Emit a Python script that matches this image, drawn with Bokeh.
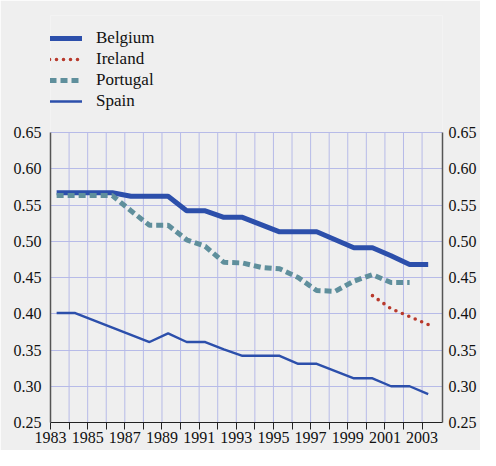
from bokeh.plotting import figure
from bokeh.models import (Range1d, LinearAxis, FixedTicker, Legend, LegendItem,
                          NumeralTickFormatter, Grid)
from bokeh.embed import file_html
from bokeh.resources import INLINE

years = list(range(1983, 2004))
belgium = [0.567, 0.567, 0.567, 0.567, 0.562, 0.562, 0.562, 0.542, 0.542, 0.533, 0.533,
           0.523, 0.513, 0.513, 0.513, 0.502, 0.491, 0.491, 0.480, 0.468, 0.468]
ireland_years = [2000, 2001, 2002, 2003]
ireland = [0.425, 0.407, 0.396, 0.385]
portugal_years = list(range(1983, 2003))
portugal = [0.563, 0.563, 0.563, 0.563, 0.542, 0.522, 0.522, 0.502, 0.493, 0.471, 0.470,
            0.464, 0.462, 0.450, 0.432, 0.431, 0.445, 0.454, 0.443, 0.443]
spain = [0.401, 0.401, 0.391, 0.381, 0.371, 0.361, 0.373, 0.361, 0.361, 0.351, 0.342,
         0.342, 0.342, 0.331, 0.331, 0.321, 0.311, 0.311, 0.300, 0.300, 0.289]
y_ticks = [0.25, 0.30, 0.35, 0.40, 0.45, 0.50, 0.55, 0.60, 0.65]
x_label_years = list(range(1983, 2004, 2))

OFFSET = 0.33  # points sit a little right of each year's tick in the original
def shift(xs):
    return [x + OFFSET for x in xs]

BG = "#efefef"
GRID = "#b7bbe8"
BLUE = "#2c4fab"
FONT = "Liberation Serif"

W, H = 480, 450
FRAME_TOP, FRAME_BOTTOM, TOP_TICK_PX = 15, 422, 132
y_lo, y_hi = y_ticks[0], y_ticks[-1]
# frame extends above the chart so the legend (inside the frame) is not clipped
y_end = y_lo + (y_hi - y_lo) * (FRAME_BOTTOM - FRAME_TOP) / (FRAME_BOTTOM - TOP_TICK_PX)

p = figure(width=W, height=H, output_backend="svg", toolbar_location=None,
           x_range=Range1d(1983, 2004.1), y_range=Range1d(y_lo, y_end),
           min_border_left=50, min_border_right=38, min_border_top=FRAME_TOP,
           min_border_bottom=H - FRAME_BOTTOM, x_axis_location=None, y_axis_location=None)
p.background_fill_color = BG
p.border_fill_color = BG
p.outline_line_color = None
for g in list(p.grid):
    g.visible = False

xt = FixedTicker(ticks=years)
yt = FixedTicker(ticks=y_ticks)

xaxis = LinearAxis(ticker=xt)
xaxis.major_label_overrides = {y: (str(y) if y in x_label_years else "") for y in years}
xaxis.major_label_text_font = FONT
xaxis.major_label_text_font_size = "16px"
xaxis.major_label_text_color = "#111111"
xaxis.major_label_standoff = 2
xaxis.major_tick_in = 0
xaxis.major_tick_out = 7
xaxis.major_tick_line_color = "#222222"
xaxis.minor_tick_line_color = None
xaxis.axis_line_color = "#222222"
p.add_layout(xaxis, "below")

for side in ("left", "right"):
    ax = LinearAxis(ticker=yt, formatter=NumeralTickFormatter(format="0.00"),
                    bounds=(y_lo, y_hi))
    ax.major_label_text_font = FONT
    ax.major_label_text_font_size = "16px"
    ax.major_label_text_color = "#111111"
    ax.major_label_standoff = 9 if side == "left" else 6
    ax.major_tick_in = 0
    ax.major_tick_out = 0
    ax.minor_tick_line_color = None
    ax.axis_line_color = "#555555"
    ax.axis_line_width = 1.5
    p.add_layout(ax, side)

# horizontal grid (includes the 0.65 top line)
p.add_layout(Grid(dimension=1, ticker=yt, grid_line_color=GRID, grid_line_width=1))
# vertical grid, limited to the chart's value range
grid_years = years[1:]
p.segment(x0=grid_years, x1=grid_years, y0=[y_lo] * len(grid_years),
          y1=[y_hi] * len(grid_years), line_color=GRID, line_width=1)

r_bel = p.line(shift(years), belgium, line_color=BLUE, line_width=5)
r_ire = p.line(shift(ireland_years), ireland, line_color="#b8392c", line_width=3.6,
               line_dash="0 7", line_cap="round")
r_por = p.line(shift(portugal_years), portugal, line_color="#5f8f9c", line_width=5,
               line_dash="7 4")
r_spa = p.line(shift(years), spain, line_color=BLUE, line_width=2.4)

legend = Legend(items=[LegendItem(label="Belgium", renderers=[r_bel]),
                       LegendItem(label="Ireland", renderers=[r_ire]),
                       LegendItem(label="Portugal", renderers=[r_por]),
                       LegendItem(label="Spain", renderers=[r_spa])],
                location=(-1, 311), padding=0, spacing=1, margin=0,
                glyph_width=33, glyph_height=20, label_height=20,
                label_standoff=14, label_text_font=FONT,
                label_text_font_size="17px", label_text_color="#111111",
                background_fill_alpha=0, border_line_alpha=0)
p.add_layout(legend, "center")

open("out.html", "w").write(file_html(p, INLINE))
